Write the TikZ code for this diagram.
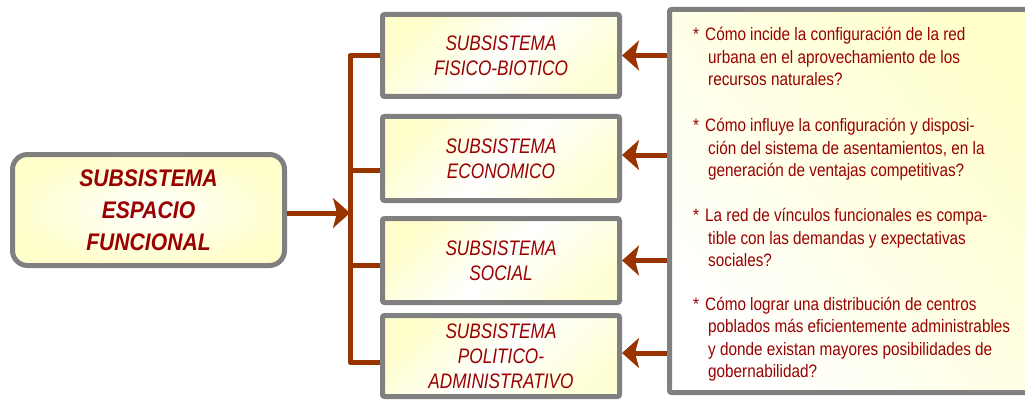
\documentclass[tikz,border=0pt]{standalone}
\usepackage{fontspec}
\setmainfont{Liberation Sans}
\newfontfamily\narrowfont[FakeStretch=0.85]{Liberation Sans}
\newfontfamily\midfont[FakeStretch=0.82]{Liberation Sans}
\newfontfamily\boldnarrow[FakeStretch=0.88]{Liberation Sans}
\usetikzlibrary{arrows.meta}
\definecolor{txtred}{HTML}{990000}
\definecolor{connc}{HTML}{993300}
\definecolor{bordc}{HTML}{808080}
\definecolor{fillY}{HTML}{FFFFCC}
\definecolor{fillL}{HTML}{FFFFD6}
\begin{document}
\begin{tikzpicture}[x=1pt,y=-1pt,
  conn/.style={draw=connc, line width=5pt},
  arr/.style={conn, -{Stealth[length=17pt,width=30pt,inset=4pt]}},
  lbox/.style={draw=bordc, line width=5pt, rounded corners=15pt,
    minimum width=272pt, minimum height=111pt,
    inner color=white, outer color=fillY,
    font=\boldnarrow\bfseries\itshape\fontsize{24}{32}\selectfont,
    text=txtred, align=center},
  subbox/.style={draw=bordc, line width=5pt, rounded corners=2pt,
    minimum width=237pt, top color=fillY, bottom color=fillL,
    middle color=white, shading angle=45,
    font=\midfont\itshape\fontsize{21}{25}\selectfont,
    text=txtred, align=center},
  panel/.style={draw=bordc, line width=5pt, rounded corners=2pt,
    top color=fillY, bottom color=white, shading angle=-50},
  qtext/.style={anchor=north west, inner sep=0pt, align=left,
    font=\narrowfont\fontsize{18}{22.5}\selectfont, text=txtred}
]
\useasboundingbox (0,0) rectangle (1025,401);

% left box
\node[lbox] (lb) at (148.5,210) {SUBSISTEMA\\ESPACIO\\FUNCIONAL};

% middle boxes
\node[subbox, minimum height=82pt] (b1) at (501,55.5) {SUBSISTEMA\\FISICO-BIOTICO};
\node[subbox, minimum height=84pt] (b2) at (501,158.5) {SUBSISTEMA\\ECONOMICO};
\node[subbox, minimum height=84pt] (b3) at (501,260.5) {SUBSISTEMA\\SOCIAL};
\node[subbox, minimum height=81pt] (b4) at (501,356) {SUBSISTEMA\\POLITICO-\\ADMINISTRATIVO};

% right panel
\node[panel, anchor=north west, minimum width=370.5pt, minimum height=383pt] (pn) at (667,7) {};

\node[qtext] (q1) at (693,27.3) {\makebox[12pt][l]{*}Cómo incide la configuración de la red\\
\hspace*{15pt}urbana en el aprovechamiento de los\\
\hspace*{15pt}recursos naturales?};
\node[qtext] (q2) at (693,118.3) {\makebox[12pt][l]{*}Cómo influye la configuración y disposi-\\
\hspace*{15pt}ción del sistema de asentamientos, en la\\
\hspace*{15pt}generación de ventajas competitivas?};
\node[qtext] (q3) at (693,208.3) {\makebox[12pt][l]{*}La red de vínculos funcionales es compa-\\
\hspace*{15pt}tible con las demandas y expectativas\\
\hspace*{15pt}sociales?};
\node[qtext] (q4) at (693,296.7) {\makebox[12pt][l]{*}Cómo lograr una distribución de centros\\
\hspace*{15pt}poblados más eficientemente administrables\\
\hspace*{15pt}y donde existan mayores posibilidades de\\
\hspace*{15pt}gobernabilidad?};

% bracket
\coordinate (sp) at (350,0);
\draw[conn, line join=round] (b1.west) -- (b1.west -| sp)
  -- ([yshift=-6pt]b4.west -| sp) -- ([yshift=-6pt]b4.west);
\draw[conn] ([yshift=-11.5pt]b2.west) -- ([yshift=-11.5pt]b2.west -| sp);
\draw[conn] ([yshift=-4.5pt]b3.west) -- ([yshift=-4.5pt]b3.west -| sp);

% arrow from left box to bracket
\draw[arr] ([yshift=-3pt]lb.east) -- ([yshift=-3pt]lb.east -| sp);

% arrows from panel to boxes
\draw[arr] (b1.east -| pn.west) -- (b1.east);
\draw[arr] ([yshift=3.5pt]b2.east -| pn.west) -- ([yshift=3.5pt]b2.east);
\draw[arr] (b3.east -| pn.west) -- (b3.east);
\draw[arr] ([yshift=3pt]b4.east -| pn.west) -- ([yshift=3pt]b4.east);
\end{tikzpicture}
\end{document}
